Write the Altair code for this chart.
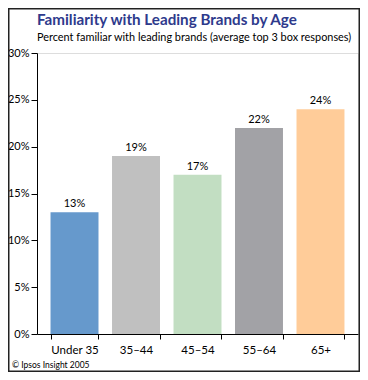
import altair as alt
import pandas as pd

categories = ["Under 35", "35–44", "45–54", "55–64", "65+"]
values = [13, 19, 17, 22, 24]
colors = ["#6699CC", "#C0C0C0", "#C2DEC2", "#A2A2A6", "#FFCC99"]
y_ticks = [0, 0.05, 0.10, 0.15, 0.20, 0.25, 0.30]
title_text = "Familiarity with Leading Brands by Age"
subtitle_text = "Percent familiar with leading brands (average top 3 box responses)"
footer_text = "© Ipsos Insight 2005"

W, H = 321, 281
PL, PT, PR, PB = 29, 45, 2, 38

df = pd.DataFrame({
    "age": categories,
    "pct": [v / 100 for v in values],
    "label": [f"{v}%" for v in values],
})

FONT = "Lato"

x = alt.X(
    "age:N", sort=categories,
    scale=alt.Scale(paddingInner=0.22, paddingOuter=0.22),
    axis=alt.Axis(title=None, labelAngle=0, tickBand="extent", tickSize=5,
                  labelFontSize=11.5, labelColor="#000", labelFont=FONT,
                  domainColor="#000", tickColor="#000", labelPadding=5),
)
y = alt.Y(
    "pct:Q",
    scale=alt.Scale(domain=[0, 0.30]),
    axis=alt.Axis(title=None, values=y_ticks, format=".0%", grid=False,
                  tickSize=6, labelFontSize=11, labelColor="#000", labelFont=FONT,
                  domainColor="#000", tickColor="#000", labelPadding=2),
)

bars = alt.Chart(df).mark_bar().encode(
    x=x, y=y,
    color=alt.Color("age:N", sort=categories,
                    scale=alt.Scale(domain=categories, range=colors), legend=None),
)
labels = alt.Chart(df).mark_text(baseline="bottom", dy=-3, fontSize=11, font=FONT,
                                  color="#000").encode(
    x=alt.X("age:N", sort=categories), y="pct:Q", text="label:N")

one = pd.DataFrame({"t": [0]})
title = alt.Chart(one).mark_text(align="left", baseline="middle", fontSize=15.2,
                                 fontWeight="bold", font=FONT, color="#2E3A8C").encode(
    x=alt.value(0), y=alt.value(-33), text=alt.value(title_text))
subtitle = alt.Chart(one).mark_text(align="left", baseline="middle", fontSize=10.9,
                                    font=FONT, color="#000").encode(
    x=alt.value(0), y=alt.value(-15), text=alt.value(subtitle_text))
footer = alt.Chart(one).mark_text(align="left", baseline="middle", fontSize=8.5,
                                  font=FONT, color="#000").encode(
    x=alt.value(-PL + 4), y=alt.value(H + 31), text=alt.value(footer_text))
border = alt.Chart(one).mark_rect(fill=None, stroke="#222", strokeWidth=1.5).encode(
    x=alt.value(-PL + 0.75), x2=alt.value(W + PR - 0.75),
    y=alt.value(-PT + 0.75), y2=alt.value(H + PB - 0.75))

chart = alt.layer(bars, labels, title, subtitle, footer, border).properties(
    width=W, height=H,
    autosize=alt.AutoSizeParams(type="none"),
    padding={"left": PL, "top": PT, "right": PR, "bottom": PB},
).configure_view(stroke=None).configure(background="white")

chart.save("out.html", embed_options={"renderer": "svg", "actions": False})
